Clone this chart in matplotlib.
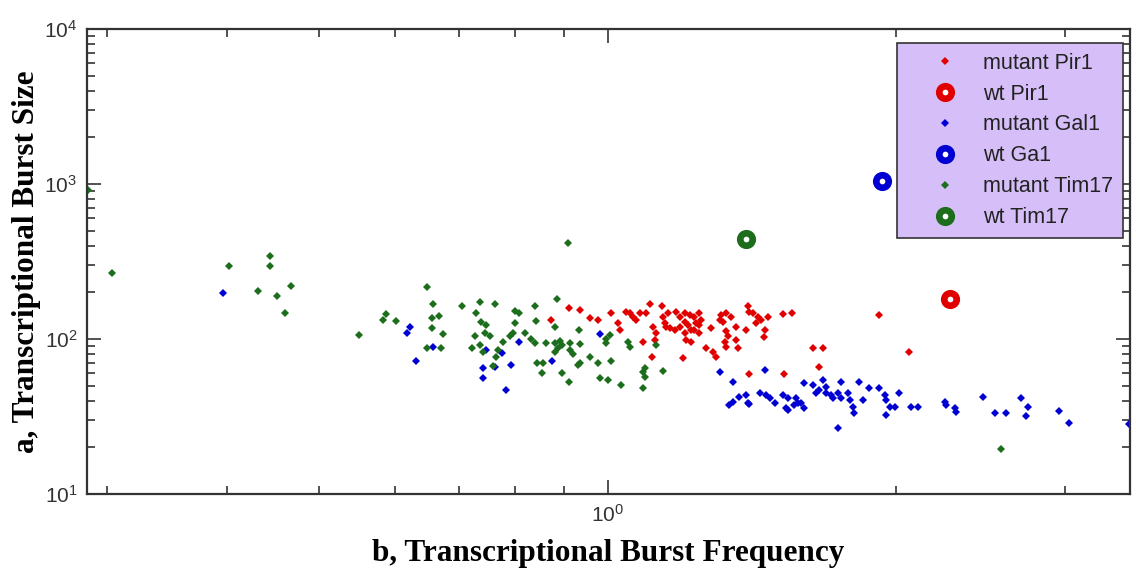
import matplotlib
matplotlib.use('Agg')
import matplotlib.pyplot as plt
from matplotlib import ticker

# burst frequency / burst size for the mutant strains
pir1_freq = [0.872, 0.912, 0.935, 0.958, 0.977, 1.009, 1.025, 1.029, 1.046, 1.054,
             1.063, 1.071, 1.080, 1.097, 1.106, 1.140, 1.115, 1.124, 1.120, 1.089,
             1.113, 1.142, 1.151, 1.156, 1.180, 1.189, 1.203, 1.218, 1.232, 1.247,
             1.253, 1.247, 1.147, 1.161, 1.175, 1.189, 1.203, 1.213, 1.222, 1.238,
             1.247, 1.203, 1.208, 1.222, 1.232, 1.283, 1.314, 1.330, 1.346, 1.309,
             1.319, 1.360, 1.395, 1.330, 1.336, 1.325, 1.330, 1.362, 1.368, 1.268,
             1.288, 1.298, 1.198, 1.400, 1.406, 1.418, 1.435, 1.446, 1.429, 1.459,
             1.470, 1.524, 1.559, 1.455, 1.404, 1.527, 1.640, 1.680, 1.664, 1.922,
             2.066]
pir1_size = [133, 158, 154, 136, 133, 147, 126, 114, 150, 147,
             139, 133, 147, 147, 168, 164, 120, 109, 99, 96,
             77, 139, 120, 147, 150, 139, 147, 143, 139, 147,
             133, 123, 126, 117, 114, 120, 129, 123, 114, 126,
             109, 109, 99, 96, 114, 117, 143, 147, 139, 133,
             129, 120, 114, 112, 104, 96, 89, 99, 87, 87,
             83, 77, 75, 164, 150, 147, 139, 133, 126, 114,
             139, 144, 148, 103, 59, 59, 87, 87, 66, 143,
             83]

gal1_freq = [0.397, 0.622, 0.617, 0.631, 0.657, 0.747, 0.776, 0.741, 0.762, 0.741,
             0.784, 0.809, 0.874, 0.793, 0.981, 1.311, 1.459, 1.351, 1.602, 1.640,
             1.663, 1.680, 1.691, 1.340, 1.351, 1.373, 1.395, 1.400, 1.441, 1.462,
             1.476, 1.494, 1.524, 1.543, 1.537, 1.574, 1.567, 1.593, 1.605, 1.406,
             1.543, 1.580, 1.652, 1.691, 1.711, 1.718, 1.740, 1.754, 1.754, 1.782,
             1.790, 1.804, 1.810, 1.832, 1.846, 1.876, 1.922, 1.740, 1.946, 1.953,
             1.953, 1.970, 1.994, 2.017, 2.075, 2.109, 2.248, 2.257, 2.303, 2.311,
             2.465, 2.535, 2.607, 2.702, 2.746, 2.735, 2.963, 3.035, 3.500]
gal1_size = [198, 119, 109, 72, 89, 85, 81, 65, 66, 56,
             47, 95, 72, 68, 108, 61.5, 63, 53, 51.8, 50.5,
             46.9, 54.4, 49.3, 37.5, 39.4, 42.4, 43.5, 38.5, 44.6, 43.5,
             41.4, 38.5, 43.5, 41.4, 35.7, 41.4, 37.5, 38.5, 35.7, 38.1,
             34.8, 38.5, 44.6, 44.6, 43.5, 41.4, 44.6, 53.1, 41.4, 44.6,
             40.4, 36.6, 33.2, 53.1, 40.4, 48.1, 48.1, 26.5, 43.5, 40.4,
             32.3, 36.6, 36.6, 44.6, 36.6, 36.6, 39.4, 37.5, 35.7, 34.0,
             42.0, 33.2, 33.5, 41.4, 36.6, 31.9, 34.4, 28.8, 28.3]

tim17_freq = [0.287, 0.304, 0.402, 0.444, 0.444, 0.431, 0.452, 0.467, 0.460, 0.550,
              0.648, 0.587, 0.583, 0.601, 0.657, 0.655, 0.667, 0.656, 0.673, 0.647,
              0.670, 0.704, 0.735, 0.762, 0.728, 0.738, 0.747, 0.744, 0.753, 0.727,
              0.722, 0.735, 0.741, 0.769, 0.778, 0.765, 0.759, 0.885, 0.839, 0.800,
              0.809, 0.841, 0.800, 0.881, 0.796, 0.791, 0.819, 0.933, 0.997, 1.005,
              0.995, 0.832, 0.839, 0.863, 0.881, 0.891, 0.895, 0.881, 0.887, 0.914,
              0.935, 0.914, 0.920, 0.935, 0.931, 0.843, 0.856, 0.853, 0.895, 0.912,
              0.959, 0.977, 1.009, 0.981, 1.000, 1.033, 1.089, 1.089, 1.093, 1.093,
              1.142, 1.124, 1.050, 1.054, 0.910, 2.576]
tim17_size = [915, 267, 296, 343, 296, 204, 189, 220, 147, 106,
              215, 145, 133, 130, 167, 137, 141, 117, 107, 87,
              87, 164, 172, 167, 148, 129, 123, 109, 104, 105,
              87, 91.5, 83, 85, 96, 77, 67, 181, 163, 152,
              148, 131, 126, 120, 109, 104, 109, 115, 99.6, 106,
              93.8, 99.6, 93.8, 94.7, 94.7, 97, 91.4, 82.8, 87.1, 94.7,
              92.7, 84.9, 80, 69.7, 67.9, 69.7, 69.7, 60.1, 60.1, 53.1,
              76.9, 70.3, 72.1, 55.7, 54.4, 50.5, 48.1, 61.5, 64.7, 57.1,
              62.4, 91.4, 96.1, 89.2, 416, 19.4]

# wild type values, one point each
wt_pir1 = (2.279, 180)
wt_gal1 = (1.935, 1050)
wt_tim17 = (1.396, 442)

RED = '#e00000'
BLUE = '#0000d2'
GREEN = '#1c6e1c'

plt.rcParams['mathtext.fontset'] = 'custom'
plt.rcParams['mathtext.rm'] = 'Liberation Sans'
plt.rcParams['mathtext.it'] = 'Liberation Sans'
plt.rcParams['mathtext.default'] = 'regular'


def dots(ax, x, y, color, label):
    ax.plot(x, y, linestyle='none', marker='D', markersize=4.5,
            color=color, markeredgewidth=0, label=label)


def ring(ax, pt, color, label):
    ax.plot([pt[0]], [pt[1]], linestyle='none', marker='o', markersize=9,
            markerfacecolor='white', markeredgecolor=color,
            markeredgewidth=4.8, label=label)


fig = plt.figure(figsize=(11.36, 5.71), dpi=100)
ax = fig.add_axes([0.0766, 0.1349, 0.918, 0.8144])

dots(ax, pir1_freq, pir1_size, RED, 'mutant Pir1')
ring(ax, wt_pir1, RED, 'wt Pir1')
dots(ax, gal1_freq, gal1_size, BLUE, 'mutant Gal1')
ring(ax, wt_gal1, BLUE, 'wt Ga1')
dots(ax, tim17_freq, tim17_size, GREEN, 'mutant Tim17')
ring(ax, wt_tim17, GREEN, 'wt Tim17')

ax.set_xscale('log')
ax.set_yscale('log')
ax.set_xlim(0.286, 3.51)
ax.set_ylim(10, 1e4)

ax.xaxis.set_major_locator(ticker.FixedLocator([1.0]))
ax.xaxis.set_minor_locator(ticker.FixedLocator([0.3, 0.4, 0.5, 0.6, 0.7, 0.8, 0.9, 2, 3]))
ax.xaxis.set_major_formatter(ticker.LogFormatterMathtext())
ax.xaxis.set_minor_formatter(ticker.NullFormatter())
ax.yaxis.set_major_locator(ticker.LogLocator(base=10))
ax.yaxis.set_minor_locator(ticker.LogLocator(base=10, subs=range(2, 10)))
ax.yaxis.set_major_formatter(ticker.LogFormatterMathtext())
ax.yaxis.set_minor_formatter(ticker.NullFormatter())

ax.tick_params(which='both', direction='in', top=True, right=True,
               colors='#333333', width=1.2)
ax.tick_params(which='major', length=10, labelsize=15, pad=7)
ax.tick_params(which='minor', length=5.5)
for lbl in ax.get_xticklabels() + ax.get_yticklabels():
    lbl.set_fontfamily('Liberation Sans')
for side in ax.spines.values():
    side.set_linewidth(1.6)
    side.set_color('#333333')

ax.set_xlabel('b, Transcriptional Burst Frequency', family='Liberation Serif',
              weight='bold', fontsize=22.5, labelpad=10)
ax.set_ylabel('a, Transcriptional Burst Size', family='Liberation Serif',
              weight='bold', fontsize=22.5, labelpad=2)

leg = ax.legend(loc='upper right', bbox_to_anchor=(0.9933, 0.9699),
                borderaxespad=0, fancybox=False, framealpha=1,
                facecolor='#d6bff8', edgecolor='#333333',
                prop={'family': 'Liberation Sans', 'size': 15.5},
                handlelength=3.55, handletextpad=0, borderpad=0.45,
                labelspacing=0.46, numpoints=1)
leg.get_frame().set_linewidth(1.2)
for t in leg.get_texts():
    t.set_color('#222222')

fig.savefig('out.png', dpi=100)
